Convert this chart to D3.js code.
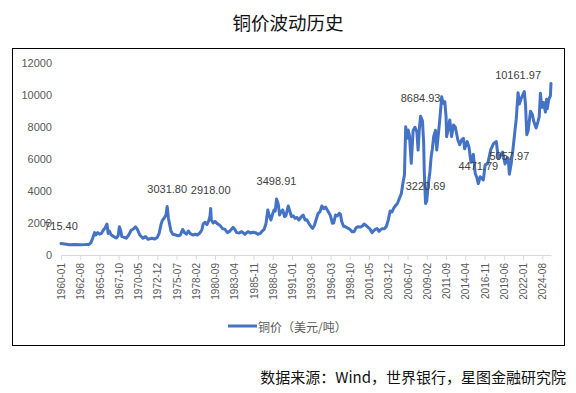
<!DOCTYPE html>
<html>
<head>
<meta charset="utf-8">
<script src="https://cdn.jsdelivr.net/npm/d3@7"></script>
<style>
  body { margin: 0; background: #fff; }
  svg { display: block; }
</style>
</head>
<body>
<div id="chart"></div>
<script>
// monthly copper price (USD/t) at turning points
const months = [
  '1960-01','1960-07','1961-03','1961-11','1962-08','1963-05','1963-10','1964-01','1964-04','1964-07',
  '1964-09','1964-12','1965-03','1965-06','1965-09','1965-12','1966-03','1966-05','1966-07','1966-10',
  '1967-02','1967-06','1967-09','1967-11','1968-01','1968-03','1968-07','1968-10','1969-02','1969-06',
  '1969-10','1970-01','1970-04','1970-08','1971-01','1971-05','1971-09','1972-03','1972-08','1972-12',
  '1973-03','1973-06','1973-08','1973-11','1974-02','1974-04','1974-06','1974-08','1974-10','1975-01',
  '1975-06','1975-10','1976-01','1976-05','1976-08','1976-11','1977-02','1977-05','1977-09','1978-01',
  '1978-05','1978-09','1978-12','1979-02','1979-05','1979-08','1979-11','1980-01','1980-02','1980-03',
  '1980-06','1980-09','1981-01','1981-05','1981-09','1982-01','1982-05','1982-09','1983-02','1983-05',
  '1983-08','1983-12','1984-04','1984-09','1985-02','1985-06','1985-10','1986-02','1986-06','1986-10',
  '1986-12','1987-04','1987-07','1987-10','1987-12','1988-03','1988-06','1988-08','1988-10','1988-12',
  '1989-02','1989-03','1989-05','1989-07','1989-10','1990-01','1990-03','1990-07','1990-09','1990-12',
  '1991-03','1991-06','1991-09','1991-12','1992-04','1992-07','1992-10','1993-01','1993-04','1993-08',
  '1993-10','1994-01','1994-04','1994-07','1994-10','1995-01','1995-04','1995-07','1995-10','1996-01',
  '1996-03','1996-06','1996-08','1996-11','1997-02','1997-05','1997-07','1997-09','1997-12','1998-03',
  '1998-06','1998-10','1999-02','1999-05','1999-08','1999-11','2000-03','2000-06','2000-09','2000-12',
  '2001-03','2001-06','2001-10','2001-12','2002-03','2002-06','2002-09','2002-12','2003-03','2003-06',
  '2003-09','2003-12','2004-03','2004-06','2004-09','2004-12','2005-03','2005-06','2005-09','2005-12',
  '2006-02','2006-04','2006-06','2006-08','2006-10','2007-01','2007-04','2007-07','2007-10','2007-12',
  '2008-02','2008-04','2008-07','2008-09','2008-10','2008-12','2009-02','2009-04','2009-07','2009-09',
  '2009-11','2010-01','2010-04','2010-06','2010-09','2010-11','2011-02','2011-04','2011-07','2011-09',
  '2011-10','2012-01','2012-03','2012-06','2012-09','2012-12','2013-04','2013-07','2013-10','2014-01',
  '2014-03','2014-07','2014-10','2015-01','2015-05','2015-08','2015-11','2016-01','2016-04','2016-09',
  '2016-12','2017-04','2017-09','2017-12','2018-02','2018-06','2018-09','2018-12','2019-04','2019-08',
  '2019-12','2020-01','2020-03','2020-06','2020-09','2020-12','2021-02','2021-05','2021-07','2021-10',
  '2022-03','2022-05','2022-07','2022-09','2023-01','2023-04','2023-06','2023-10','2024-01','2024-03',
  '2024-05','2024-07','2024-09','2024-10','2025-01','2025-03','2025-04','2025-06','2025-07','2025-09',
  '2025-10'
]
const prices = [
  715.40, 690, 640, 650, 640, 650, 660, 760, 1050, 1400,
  1250, 1400, 1300, 1350, 1550, 1700, 1940, 1350, 1500, 1250,
  1150, 1060, 1200, 1770, 1550, 1150, 1100, 1050, 1250, 1550,
  1650, 1770, 1600, 1250, 1050, 1150, 980, 1050, 1000, 1100,
  1350, 1900, 2150, 2300, 2500, 3031.80, 2300, 1900, 1500, 1300,
  1250, 1200, 1250, 1600, 1400, 1300, 1500, 1350, 1250, 1300,
  1250, 1400, 1600, 1950, 2050, 1900, 2150, 2450, 2918.00, 2200,
  2000, 2100, 1950, 1850, 1650, 1600, 1400, 1500, 1730, 1600,
  1400, 1380, 1460, 1300, 1460, 1380, 1420, 1400, 1300, 1350,
  1460, 1600, 1950, 2820, 2500, 2190, 2600, 2820, 2750, 3498.91,
  3300, 3130, 2500, 2700, 2820, 2400, 2450, 3070, 2800, 2400,
  2450, 2300, 2350, 2190, 2400, 2500, 2190, 2200, 1985, 1750,
  1670, 1850, 2235, 2600, 2700, 3070, 2900, 3000, 2800, 2600,
  2450, 1985, 2000, 2500, 2450, 2610, 2550, 2100, 1800, 1770,
  1700, 1610, 1450, 1460, 1700, 1770, 1750, 1800, 1940, 1850,
  1750, 1650, 1400, 1500, 1600, 1650, 1480, 1600, 1650, 1650,
  1800, 2200, 2750, 2700, 2950, 3100, 3250, 3550, 3850, 4600,
  5000, 8030, 7300, 7825, 7500, 5740, 7800, 8000, 7700, 6570,
  7900, 8684.93, 8400, 7000, 5110, 3220.69, 3400, 4280, 5200, 6150,
  6650, 7400, 7800, 6570, 7700, 8500, 9900, 9500, 9600, 8660,
  7400, 8000, 8450, 7410, 8140, 8000, 7200, 6900, 7200, 7300,
  6650, 7100, 6750, 5800, 6300, 5100, 4800, 4471.79, 4900, 4700,
  5650, 5700, 6600, 6850, 7000, 7100, 6050, 6200, 6450, 5700,
  6100, 6050, 5057.97, 5750, 6700, 7800, 8500, 10161.97, 9450, 9800,
  10230, 9400, 7530, 7750, 9000, 8800, 8400, 7950, 8350, 8650,
  10130, 9250, 9250, 9550, 8950, 9750, 9150, 9650, 9800, 9950,
  10740
]
const labelMonths = ['1960-01', '1974-04', '1980-02', '1988-12', '2008-04',
  '2008-12', '2016-01', '2020-03', '2021-05']
const tickMonths = ['1960-01', '1962-08', '1965-03', '1967-10', '1970-05',
  '1972-12', '1975-07', '1978-02', '1980-09', '1983-04', '1985-11', '1988-06',
  '1991-01', '1993-08', '1996-03', '1998-10', '2001-05', '2003-12', '2006-07',
  '2009-02', '2011-09', '2014-04', '2016-11', '2019-06', '2022-01', '2024-08']
const yTicks = [0, 2000, 4000, 6000, 8000, 10000, 12000]

const title = '铜价波动历史'
const seriesName = '铜价（美元/吨）'
const source = '数据来源：Wind，世界银行，星图金融研究院'

const drawChart = () => {
  var width = 576, height = 393
  var cjk = '"Noto Sans CJK SC", sans-serif'
  var num = '"Liberation Sans", Arial, sans-serif'

  // every month on the category axis, 1960-01 .. last month
  var allMonths = []
  var last = months[months.length - 1].split('-').map(Number)
  for (var y = 1960; y <= last[0]; y++) {
    for (var m = 1; m <= 12; m++) {
      if (y === last[0] && m > last[1]) break
      allMonths.push(y + '-' + String(m).padStart(2, '0'))
    }
  }

  var data = months.map((d, i) => ({ month: d, price: prices[i] }))

  var svg = d3.select('#chart').
    append('svg').
    attr('width', width).
    attr('height', height)

  svg.append('rect').
    attr('width', width).attr('height', height).attr('fill', '#fff')

  svg.append('text').
    attr('x', 288).attr('y', 22).
    attr('text-anchor', 'middle').
    attr('dominant-baseline', 'central').
    style('font-family', cjk).style('font-size', '18.5px').
    attr('fill', '#111').
    text(title)

  svg.append('rect').
    attr('x', 12.5).attr('y', 48.5).
    attr('width', 552).attr('height', 297).
    attr('fill', 'none').attr('stroke', '#000').attr('stroke-width', 1)

  var x = d3.scalePoint().domain(allMonths).range([61, 551])
  var yScale = d3.scaleLinear().domain([0, 12000]).range([255, 63.3])

  // y axis: labels only
  var yAxis = svg.append('g').
    attr('transform', 'translate(61,0)').
    call(d3.axisLeft(yScale).tickValues(yTicks).tickFormat(d3.format('d')).
      tickSize(0).tickPadding(9))
  yAxis.select('.domain').remove()
  yAxis.selectAll('text').
    style('font-family', num).style('font-size', '11px').attr('fill', '#595959')

  // x axis
  var xAxis = svg.append('g').
    attr('transform', 'translate(0,255)').
    call(d3.axisBottom(x).tickValues(tickMonths).tickSize(5).tickSizeOuter(0))
  xAxis.select('.domain').attr('stroke', '#d9d9d9')
  xAxis.selectAll('.tick line').attr('stroke', '#d9d9d9')
  xAxis.selectAll('text').
    attr('transform', 'rotate(-90)').
    attr('text-anchor', 'end').
    attr('x', -8).attr('y', 0).attr('dy', '0.35em').
    style('font-family', num).style('font-size', '10px').attr('fill', '#595959')

  var line = d3.line().
    x(d => x(d.month)).
    y(d => yScale(d.price)).
    curve(d3.curveLinear)

  svg.append('path').
    datum(data).
    attr('d', line).
    attr('fill', 'none').
    attr('stroke', '#4472C4').
    attr('stroke-width', 3).
    attr('stroke-linejoin', 'round').
    attr('stroke-linecap', 'round')

  // data labels above selected points
  svg.selectAll('.dlabel').
    data(data.filter(d => labelMonths.includes(d.month))).
    enter().
    append('text').
    attr('class', 'dlabel').
    attr('x', d => x(d.month)).
    attr('y', d => yScale(d.price) - 18).
    attr('text-anchor', 'middle').
    attr('dominant-baseline', 'central').
    style('font-family', num).style('font-size', '11px').
    attr('fill', '#404040').
    text(d => d.price.toFixed(2))

  // legend
  svg.append('line').
    attr('x1', 228).attr('x2', 257).attr('y1', 326).attr('y2', 326).
    attr('stroke', '#4472C4').attr('stroke-width', 3)
  svg.append('text').
    attr('x', 258).attr('y', 326).
    attr('dominant-baseline', 'central').
    style('font-family', cjk).style('font-size', '12px').
    attr('fill', '#595959').
    text(seriesName)

  svg.append('text').
    attr('x', 566).attr('y', 376).
    attr('text-anchor', 'end').
    attr('dominant-baseline', 'central').
    style('font-family', cjk).style('font-size', '15px').
    attr('fill', '#111').
    text(source)
}

drawChart()
</script>
</body>
</html>
